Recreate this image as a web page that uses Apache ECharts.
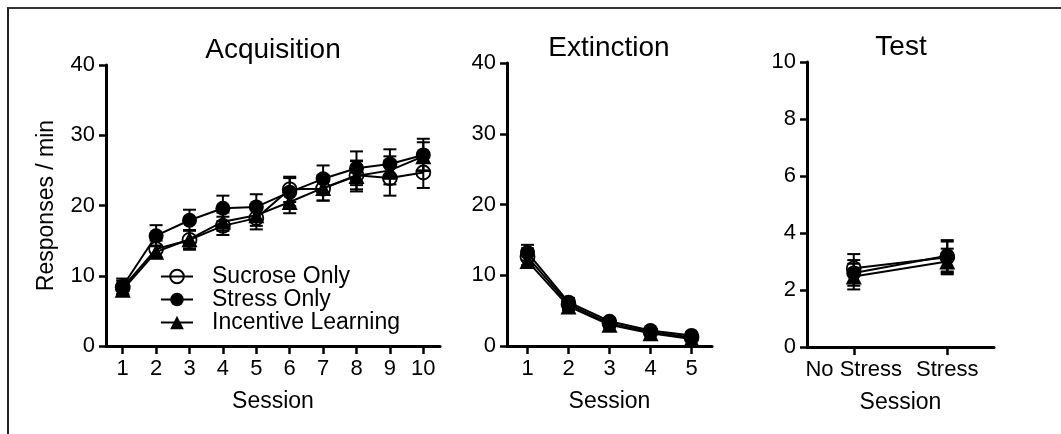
<!DOCTYPE html>
<html><head><meta charset="utf-8">
<script src="https://cdn.jsdelivr.net/npm/echarts@6/dist/echarts.min.js"></script>
<style>
html,body{margin:0;padding:0;background:#fff;overflow:hidden}
#c{width:1061px;height:434px;position:absolute;left:0;top:0}
#frame{position:absolute;left:7px;top:7px;width:1100px;height:500px;border-top:2px solid #333;border-left:2px solid #222;pointer-events:none}
</style>
</head><body><div id="c"></div><div id="frame"></div>
<script>
const seriesNames = ['Sucrose Only', 'Stress Only', 'Incentive Learning'];
const panelTitles = ['Acquisition', 'Extinction', 'Test'];

const acqSessions = ['1','2','3','4','5','6','7','8','9','10'];
const acqSucrose    = [8.3, 13.8, 15.1, 17.1, 18.2, 22.3, 22.4, 24.3, 23.9, 24.7];
const acqSucroseErr = [1.0, 1.2, 1.4, 1.3, 1.6, 1.8, 1.7, 2.0, 2.5, 2.2];
const acqStress     = [8.5, 15.7, 17.9, 19.6, 19.8, 21.9, 23.8, 25.3, 25.9, 27.2];
const acqStressErr  = [1.1, 1.5, 1.5, 1.8, 1.8, 2.0, 1.9, 2.4, 2.1, 2.3];
const acqIL         = [8.0, 13.4, 15.2, 17.7, 18.6, 20.5, 22.5, 24.2, 25.0, 27.0];
const acqILErr      = [0.8, 0.9, 1.3, 1.3, 1.5, 1.6, 1.8, 2.2, 2.0, 2.0];

const extSessions = ['1','2','3','4','5'];
const extSucrose    = [12.6, 5.9, 3.2, 2.0, 1.2];
const extSucroseErr = [1.2, 0.6, 0.4, 0.3, 0.3];
const extStress     = [13.2, 6.2, 3.5, 2.2, 1.5];
const extStressErr  = [1.1, 0.6, 0.4, 0.3, 0.3];
const extIL         = [12.0, 5.6, 3.0, 1.8, 1.0];
const extILErr      = [0.8, 0.5, 0.4, 0.3, 0.3];

const testSessions = ['No Stress', 'Stress'];
const testSucrose    = [2.76, 3.15];
const testSucroseErr = [0.5, 0.55];
const testStress     = [2.6, 3.2];
const testStressErr  = [0.45, 0.55];
const testIL         = [2.47, 3.0];
const testILErr      = [0.45, 0.45];

const FONT = 'Liberation Sans, Arial, Helvetica, sans-serif';

const symbolDefs = [
  { symbol: 'circle', size: 14, item: { color: 'rgba(0,0,0,0)', borderColor: '#000', borderWidth: 1.8 } },
  { symbol: 'circle', size: 15, item: { color: '#000', borderColor: '#000', borderWidth: 0 } },
  { symbol: 'triangle', size: 16, item: { color: '#000', borderColor: '#000', borderWidth: 0 } }
];

function errRender(params, api) {
  const x = api.value(0), v = api.value(1), e = api.value(2);
  const hi = api.coord([x, v + e]);
  const lo = api.coord([x, v - e]);
  const w = 6.5;
  const style = { stroke: '#000', lineWidth: 2, fill: null };
  return {
    type: 'group',
    children: [
      { type: 'line', shape: { x1: hi[0], y1: hi[1], x2: lo[0], y2: lo[1] }, style: style },
      { type: 'line', shape: { x1: hi[0] - w, y1: hi[1], x2: hi[0] + w, y2: hi[1] }, style: style },
      { type: 'line', shape: { x1: lo[0] - w, y1: lo[1], x2: lo[0] + w, y2: lo[1] }, style: style }
    ]
  };
}

const panels = [
  { cats: acqSessions, vals: [acqSucrose, acqStress, acqIL], errs: [acqSucroseErr, acqStressErr, acqILErr], yMax: 40, yInt: 10,
    grid: { left: 106, right: 621, top: 65, bottom: 88 }, titleX: 273, titleTop: 36, yName: 'Responses / min', catFont: 22 },
  { cats: extSessions, vals: [extSucrose, extStress, extIL], errs: [extSucroseErr, extStressErr, extILErr], yMax: 40, yInt: 10,
    grid: { left: 507, right: 349, top: 63, bottom: 88 }, titleX: 609, titleTop: 34, yName: '', catFont: 22 },
  { cats: testSessions, vals: [testSucrose, testStress, testIL], errs: [testSucroseErr, testStressErr, testILErr], yMax: 10, yInt: 2,
    grid: { left: 807, right: 67, top: 62, bottom: 87 }, titleX: 901, titleTop: 33, yName: '', catFont: 22 }
];

const grids = [], xAxes = [], yAxes = [], titles = [], series = [];
panels.forEach((p, pi) => {
  grids.push(Object.assign({ containLabel: false }, p.grid));
  titles.push({ text: panelTitles[pi], left: p.titleX, top: p.titleTop, textAlign: 'center', padding: 0,
    textStyle: { fontSize: 28, fontWeight: 'normal', color: '#000', fontFamily: FONT } });
  xAxes.push({
    type: 'category', gridIndex: pi, data: p.cats, boundaryGap: true,
    axisLine: { show: true, lineStyle: { color: '#000', width: 3 } },
    axisTick: { show: true, alignWithLabel: true, length: 8, lineStyle: { color: '#000', width: 2.5 } },
    axisLabel: { color: '#000', fontSize: p.catFont, fontFamily: FONT, margin: 12, interval: 0 },
    name: 'Session', nameLocation: 'middle', nameGap: 44,
    nameTextStyle: { color: '#000', fontSize: 23, fontFamily: FONT },
    splitLine: { show: false }
  });
  yAxes.push({
    type: 'value', gridIndex: pi, min: 0, max: p.yMax, interval: p.yInt,
    axisLine: { show: true, lineStyle: { color: '#000', width: 3 } },
    axisTick: { show: true, length: 7, lineStyle: { color: '#000', width: 2.5 } },
    axisLabel: { color: '#000', fontSize: 22, fontFamily: FONT, margin: 11 },
    splitLine: { show: false },
    name: p.yName, nameLocation: 'middle', nameGap: 48, nameRotate: 90,
    nameTextStyle: { color: '#000', fontSize: 23, fontFamily: FONT }
  });
  for (let s = 0; s < 3; s++) {
    series.push({
      type: 'custom', xAxisIndex: pi, yAxisIndex: pi, renderItem: errRender, z: 2,
      encode: { x: 0, y: 1 },
      data: p.vals[s].map((v, i) => [i, v, p.errs[s][i]]),
      silent: true
    });
  }
  for (let s = 0; s < 3; s++) {
    const sd = symbolDefs[s];
    series.push({
      type: 'line', name: seriesNames[s], xAxisIndex: pi, yAxisIndex: pi, z: 3,
      data: p.vals[s], symbol: sd.symbol, symbolSize: sd.size, showSymbol: true,
      lineStyle: { color: '#000', width: 2 }, itemStyle: sd.item,
      emphasis: { disabled: true }
    });
  }
});

const chart = echarts.init(document.getElementById('c'), null, { renderer: 'canvas' });
chart.setOption({
  animation: false,
  backgroundColor: '#fff',
  textStyle: { fontFamily: FONT },
  title: titles,
  grid: grids,
  xAxis: xAxes,
  yAxis: yAxes,
  legend: {
    data: seriesNames, orient: 'vertical', left: 160, top: 265, itemGap: 0,
    itemWidth: 32, itemHeight: 17, padding: 0,
    textStyle: { fontSize: 23, color: '#000', fontFamily: FONT, padding: [0, 0, 0, 14], lineHeight: 22 },
    selectedMode: false
  },
  series: series
});
</script>
</body></html>
